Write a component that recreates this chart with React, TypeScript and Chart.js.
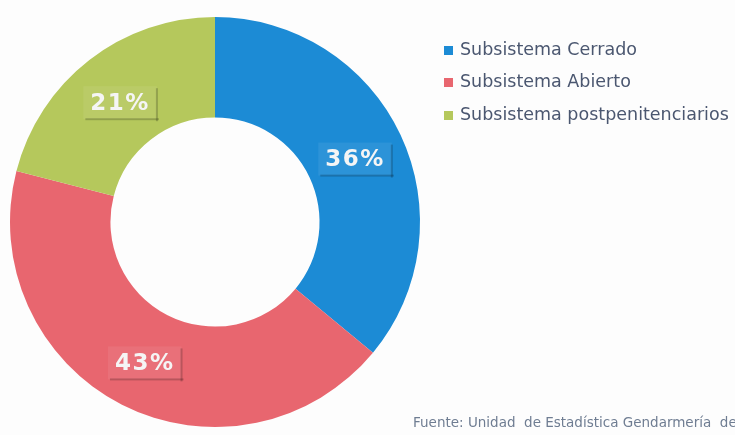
import React, { useEffect, useRef } from "react";
import { Chart, registerables } from "chart.js";

Chart.register(...registerables);

const categories = ["Subsistema Cerrado", "Subsistema Abierto", "Subsistema postpenitenciarios"];
const values = [36, 43, 21];
const valueLabels = ["36%", "43%", "21%"];
const colors = ["#1c8bd5", "#e8666f", "#b5c85c"];
const sourceText = "Fuente: Unidad  de Estadística Gendarmería  de";

const overlayPlugin = {
  id: "overlay",
  afterDatasetsDraw(chart: any) {
    const ctx = chart.ctx as CanvasRenderingContext2D;
    const meta = chart.getDatasetMeta(0);
    ctx.save();
    // value labels
    meta.data.forEach((arc: any, i: number) => {
      const p = arc.tooltipPosition();
      const text = valueLabels[i];
      ctx.font = "bold 23px 'DejaVu Sans', Verdana, sans-serif";
      (ctx as any).letterSpacing = "1.5px";
      const w = ctx.measureText(text).width + 14;
      const h = 33;
      const x = p.x - w / 2;
      const y = p.y - h / 2 + 3;
      ctx.fillStyle = "rgba(255,255,255,0.07)";
      ctx.fillRect(x, y, w, h);
      ctx.fillStyle = "rgba(0,0,0,0.2)";
      ctx.fillRect(x + 2, y + h - 1, w, 2);
      ctx.fillRect(x + w - 1, y + 2, 2, h);
      ctx.fillStyle = "#f5f5f5";
      ctx.textAlign = "center";
      ctx.textBaseline = "middle";
      ctx.fillText(text, p.x, p.y + 4);
    });
    (ctx as any).letterSpacing = "0px";
    // legend
    const lx = 444;
    const rows = [50, 82, 115];
    ctx.font = "17.5px 'DejaVu Sans', Verdana, sans-serif";
    ctx.textAlign = "left";
    ctx.textBaseline = "middle";
    categories.forEach((c, i) => {
      ctx.fillStyle = colors[i];
      ctx.fillRect(lx, rows[i] - 4, 9, 9);
      ctx.fillStyle = "#4b5770";
      ctx.fillText(c, lx + 16, rows[i]);
    });
    // source
    ctx.font = "13.5px 'DejaVu Sans', Verdana, sans-serif";
    ctx.fillStyle = "#6f7d92";
    ctx.fillText(sourceText, 413, 423);
    ctx.restore();
  },
};

export default function App() {
  const ref = useRef<HTMLCanvasElement | null>(null);
  useEffect(() => {
    if (!ref.current) return;
    const chart = new Chart(ref.current, {
      type: "doughnut",
      data: {
        labels: categories,
        datasets: [
          {
            data: values,
            backgroundColor: colors,
            borderWidth: 0,
          },
        ],
      },
      options: {
        responsive: true,
        maintainAspectRatio: false,
        animation: false,
        cutout: "51%",
        layout: { padding: { left: 10, right: 315, top: 17, bottom: 8 } },
        plugins: {
          legend: { display: false },
          tooltip: { enabled: false },
        },
      },
      plugins: [overlayPlugin],
    });
    return () => chart.destroy();
  }, []);
  return (
    <div style={{ position: "absolute", left: 0, top: 0, width: 735, height: 435, background: "#fdfdfd" }}>
      <canvas ref={ref} />
    </div>
  );
}
